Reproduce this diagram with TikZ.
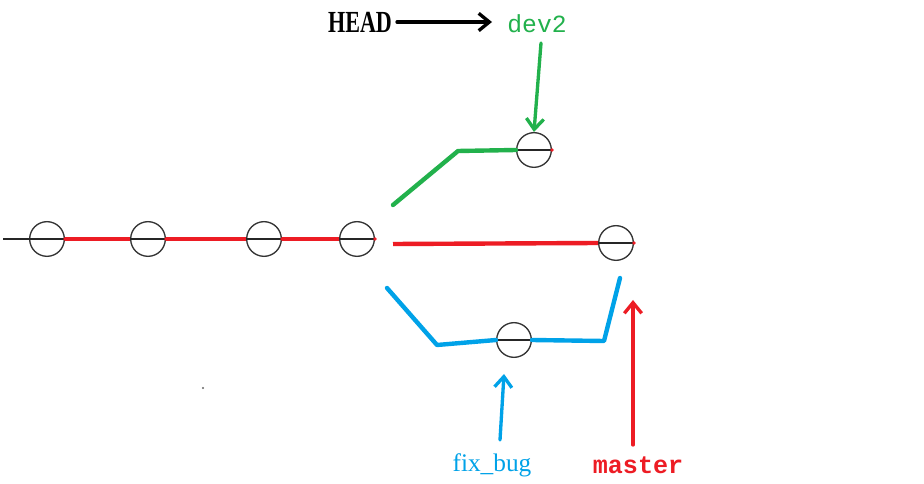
\documentclass[tikz,border=0pt]{standalone}
\usepackage{fontspec}
\setmainfont{Liberation Serif}
\newfontfamily\monof{Liberation Mono}
\usetikzlibrary{arrows.meta}
\definecolor{gitred}{RGB}{237,28,36}
\definecolor{gitgreen}{RGB}{34,177,76}
\definecolor{gitblue}{RGB}{0,162,232}
\tikzset{
  commit/.style={circle,draw=black!80,line width=1pt,minimum size=26pt,inner sep=0pt},
  redline/.style={draw=gitred,line width=3.3pt},
  greenline/.style={draw=gitgreen,line width=3.3pt,line join=round,line cap=round},
  blueline/.style={draw=gitblue,line width=3.3pt,line join=round,line cap=round},
  barb/.style={-{Straight Barb[length=8pt,width=13pt,line width=2.5pt]},line width=2.5pt,line cap=round}
}
\newcommand{\diam}[1]{\draw[black!85,line width=1pt] (#1.west) -- (#1.east); \fill[gitred] (#1.east) circle (1.4pt);}
\begin{document}
\begin{tikzpicture}[x=0.75pt,y=-0.75pt]
\useasboundingbox[fill=white] (0,0) rectangle (924,484);
% main line commits
\node[commit] (c1) at (47,239) {};
\node[commit] (c2) at (148,239) {};
\node[commit] (c3) at (264,239) {};
\node[commit] (c4) at (357,239) {};
\node[commit] (d1) at (534,150) {};
\node[commit] (m1) at (616,243) {};
\node[commit] (f1) at (514,340) {};
\foreach \n in {c1,c2,c3,c4,d1,m1,f1} {\diam{\n}}
\coordinate (start) at (3,239);
\draw[black!85,line width=1pt] (start) -- (c1.west);
\draw[redline] (c1.east) -- (c2.west);
\draw[redline] (c2.east) -- (c3.west);
\draw[redline] (c3.east) -- (c4.west);
% branches
\coordinate (g0) at (393,205);
\coordinate (g1) at (458,151);
\draw[greenline] (g0) -- (g1) -- (d1.west);
\coordinate (r0) at (393,244);
\draw[redline] (r0) -- (m1.west);
\coordinate (b0) at (387,288);
\coordinate (b1) at (437,345);
\coordinate (b2) at (604,341);
\coordinate (b3) at (620,278);
\draw[blueline] (b0) -- (b1) -- (f1.west);
\draw[blueline] (f1.east) -- (b2) -- (b3);
% labels
\node[font=\bfseries\fontsize{23}{26}\selectfont,xscale=0.72,inner sep=0pt] (head) at (360,22) {HEAD};
\node[font=\monof\fontsize{18.5}{22}\selectfont,text=gitgreen,inner sep=0pt] (dev2) at (537,24) {dev2};
\node[font=\fontsize{19}{22}\selectfont,text=gitblue,inner sep=0pt] (fixbug) at (492,465) {fix\_bug};
\node[font=\monof\bfseries\fontsize{18.8}{22}\selectfont,text=gitred,inner sep=0pt] (master) at (638,465) {master};
% arrows
\coordinate (ha) at (397,22);
\coordinate (hb) at (492,22);
\draw[barb,black] (ha) -- (hb);
\coordinate (ga) at (541,43);
\draw[barb,gitgreen] (ga) -- (d1.north);
\coordinate (fa) at (500,440);
\coordinate (fb) at (504,374);
\draw[barb,gitblue] (fa) -- (fb);
\coordinate (ma) at (633,445);
\coordinate (mb) at (633,300);
\draw[barb,gitred] (ma) -- (mb);
% stray dot
\fill[black!60] (203,388) circle (0.9pt);
\end{tikzpicture}
\end{document}
